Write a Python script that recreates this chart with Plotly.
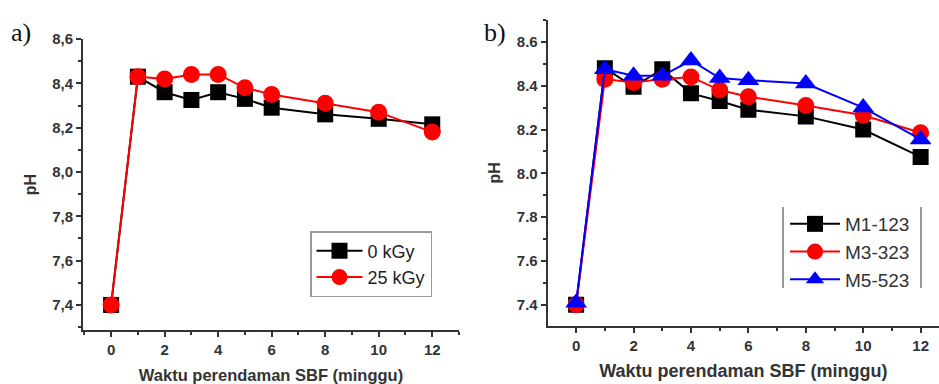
import plotly.graph_objects as go

# ---- data ----
weeks = [0, 1, 2, 3, 4, 5, 6, 8, 10, 12]

a_0kGy = [7.40, 8.43, 8.36, 8.325, 8.36, 8.33, 8.29, 8.26, 8.24, 8.215]
a_25kGy = [7.40, 8.43, 8.42, 8.44, 8.44, 8.38, 8.35, 8.31, 8.27, 8.18]

b_M1 = [7.40, 8.48, 8.395, 8.475, 8.365, 8.33, 8.29, 8.26, 8.20, 8.075]
b_M3 = [7.40, 8.43, 8.415, 8.43, 8.44, 8.38, 8.35, 8.31, 8.265, 8.185]
b_M5 = [7.41, 8.475, 8.445, 8.445, 8.515, 8.435, 8.425, 8.41, 8.30, 8.155]

x_ticks = [0, 2, 4, 6, 8, 10, 12]
y_ticks = [7.4, 7.6, 7.8, 8.0, 8.2, 8.4, 8.6]
y_ticks_a_text = ["7,4", "7,6", "7,8", "8,0", "8,2", "8,4", "8,6"]

x_title = "Waktu perendaman SBF (minggu)"
y_title = "pH"

FONT = "Arial, Liberation Sans, sans-serif"

fig = go.Figure()

def add(x, y, name, color, symbol, size, xa, ya, legend):
    fig.add_trace(go.Scatter(
        x=x, y=y, name=name, mode="lines+markers",
        line=dict(color=color, width=2),
        marker=dict(color=color, symbol=symbol, size=size, line=dict(width=0)),
        xaxis=xa, yaxis=ya, legend=legend))

add(weeks, a_0kGy, "0 kGy", "black", "square", 16, "x", "y", "legend")
add(weeks, a_25kGy, "25 kGy", "#ff0000", "circle", 17, "x", "y", "legend")
add(weeks, b_M1, "M1-123", "black", "square", 16, "x2", "y2", "legend2")
add(weeks, b_M3, "M3-323", "#ff0000", "circle", 17, "x2", "y2", "legend2")
add(weeks, b_M5, "M5-523", "#0000ff", "triangle-up", 19, "x2", "y2", "legend2")

axis_common = dict(
    showline=True, linecolor="#333", linewidth=2, ticks="outside",
    ticklen=5, tickwidth=1.5, tickcolor="#333", showgrid=False, zeroline=False,
    tickfont=dict(family=FONT, size=15, color="#333", weight="bold"),
    mirror=False, automargin=False,
)
minor_x = dict(dtick=1, tick0=0, ticks="outside", ticklen=3, tickcolor="#333")
minor_y = dict(dtick=0.1, tick0=7.4, ticks="outside", ticklen=3, tickcolor="#333")

fig.update_layout(
    width=939, height=384,
    margin=dict(l=0, r=0, t=0, b=0),
    paper_bgcolor="white", plot_bgcolor="white",
    font=dict(family=FONT, color="#222"),
    xaxis=dict(domain=[0.0884, 0.4888], range=[-1.05, 13.0], anchor="y",
               tickvals=x_ticks, minor=minor_x,
               title=dict(text=x_title, font=dict(size=16.5, weight="bold", color="#333"), standoff=12),
               **axis_common),
    yaxis=dict(domain=[0.1406, 0.8984], range=[7.287, 8.6], anchor="x",
               tickvals=y_ticks, ticktext=y_ticks_a_text, minor=minor_y,
               title=dict(text=y_title, font=dict(size=16, weight="bold", color="#333"), standoff=12),
               **axis_common),
    xaxis2=dict(domain=[0.5833, 1.0], range=[-0.99, 12.64], anchor="y2",
                tickvals=x_ticks, minor=minor_x,
                title=dict(text=x_title, font=dict(size=18, weight="bold", color="#333"), standoff=12),
                **axis_common),
    yaxis2=dict(domain=[0.152, 0.948], range=[7.305, 8.70], anchor="x2",
                tickvals=y_ticks, tickformat=".1f", minor=minor_y,
                title=dict(text=y_title, font=dict(size=16, weight="bold", color="#333"), standoff=12),
                **axis_common),
    legend=dict(x=310 / 939, y=1 - 231 / 384, xanchor="left", yanchor="top",
                bordercolor="#999", borderwidth=1.5, bgcolor="white",
                font=dict(family=FONT, size=18, color="#222"),
                tracegroupgap=0, itemsizing="trace", itemwidth=46),
    legend2=dict(x=785 / 939, y=1 - 205 / 384, xanchor="left", yanchor="top",
                 borderwidth=0, bgcolor="rgba(0,0,0,0)",
                 font=dict(family=FONT, size=19, color="#333"),
                 tracegroupgap=0, itemsizing="trace", itemwidth=50),
    showlegend=True,
)

for lab, px, py in [("a)", 9, 32), ("b)", 482, 32)]:
    fig.add_annotation(text=lab, x=px / 939, y=1 - py / 384, xref="paper", yref="paper",
                       xanchor="left", yanchor="middle", showarrow=False,
                       font=dict(family="Liberation Serif, Times New Roman, serif", size=26, color="#111"))

# Legend-b side bars (decoration)
for xp in [783 / 939, 921 / 939]:
    fig.add_shape(type="line", xref="paper", yref="paper", x0=xp, x1=xp,
                  y0=1 - 288 / 384, y1=1 - 207 / 384, line=dict(color="#555", width=1.2))

fig.write_html("out.html", config={"displayModeBar": False},
               post_script="document.body.style.margin='0';document.body.style.overflow='hidden';")
